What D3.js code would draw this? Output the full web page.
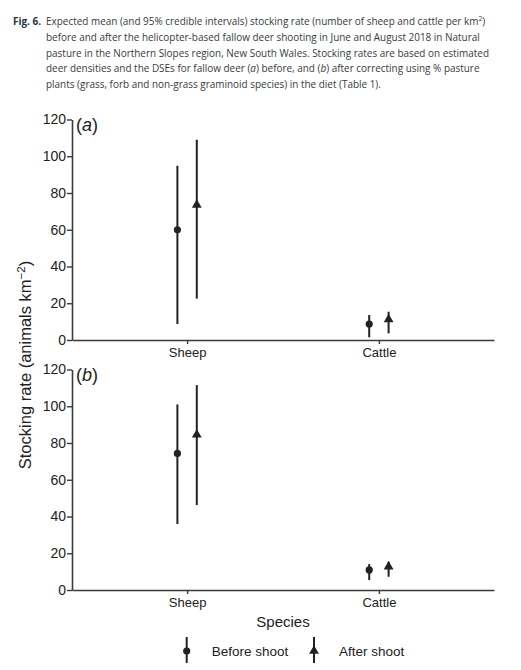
<!DOCTYPE html>
<html><head><meta charset="utf-8">
<script src="https://cdn.jsdelivr.net/npm/d3@7"></script>
<style>
body{margin:0;background:#fff;}
svg{display:block;}
</style></head>
<body>
<svg id="c" width="521" height="670"></svg>
<script>
const species = ["Sheep", "Cattle"];
const groups = ["Before shoot", "After shoot"];
const yTicks = [0, 20, 40, 60, 80, 100, 120];

// panel (a)
const aBeforeMean = [60, 8.7];
const aBeforeLow  = [8.7, 1.5];
const aBeforeHigh = [94.8, 13.6];
const aAfterMean  = [73.5, 11.2];
const aAfterLow   = [22.5, 3.6];
const aAfterHigh  = [109, 15.4];
// panel (b)
const bBeforeMean = [74.3, 10.9];
const bBeforeLow  = [35.9, 5.4];
const bBeforeHigh = [101, 14.1];
const bAfterMean  = [84.5, 12.7];
const bAfterLow   = [46.2, 7.2];
const bAfterHigh  = [111.5, 15.4];

const captionLines = [
  "before and after the helicopter-based fallow deer shooting in June and August 2018 in Natural",
  "pasture in the Northern Slopes region, New South Wales. Stocking rates are based on estimated"
];

const svg = d3.select("#c");
const ink = "#222";
const axisCol = "#3a3a3a";

// caption
const cap = svg.append("g").attr("font-family", "'Open Sans', sans-serif").attr("font-size", 9.95).attr("fill", "#3a3a3a");
const cx0 = 46, cy0 = 25, lh = 15.8;
cap.append("text").attr("x", 13).attr("y", cy0).attr("font-weight", "bold").attr("fill", "#1e3242").text("Fig. 6.");
const l1 = cap.append("text").attr("x", cx0).attr("y", cy0);
l1.append("tspan").text("Expected mean (and 95% credible intervals) stocking rate (number of sheep and cattle per km");
l1.append("tspan").attr("font-size", 6.8).attr("dy", -4).text("2");
l1.append("tspan").attr("dy", 4).text(")");
captionLines.forEach((t, i) => cap.append("text").attr("x", cx0).attr("y", cy0 + lh * (i + 1)).text(t));
const l4 = cap.append("text").attr("x", cx0).attr("y", cy0 + lh * 3);
l4.append("tspan").text("deer densities and the DSEs for fallow deer (");
l4.append("tspan").attr("font-style", "italic").text("a");
l4.append("tspan").text(") before, and (");
l4.append("tspan").attr("font-style", "italic").text("b");
l4.append("tspan").text(") after correcting using % pasture");
cap.append("text").attr("x", cx0).attr("y", cy0 + lh * 4).text("plants (grass, forb and non-grass graminoid species) in the diet (Table 1).");

// scales
const x = d3.scalePoint().domain(species).range([72, 494]).padding(0.6);
const offset = d3.scaleOrdinal().domain(groups).range([-9.7, 9.7]);

const panels = [
  { label: "a", top: 119.5, bottom: 340,
    series: [
      { g: groups[0], mean: aBeforeMean, lo: aBeforeLow, hi: aBeforeHigh },
      { g: groups[1], mean: aAfterMean, lo: aAfterLow, hi: aAfterHigh }] },
  { label: "b", top: 369.5, bottom: 590,
    series: [
      { g: groups[0], mean: bBeforeMean, lo: bBeforeLow, hi: bBeforeHigh },
      { g: groups[1], mean: bAfterMean, lo: bAfterLow, hi: bAfterHigh }] }
];

const tri = d3.symbol().type(d3.symbolTriangle).size(42);

function drawMarker(g, grp, px, py) {
  if (grp === groups[0]) {
    g.append("circle").attr("cx", px).attr("cy", py).attr("r", 3.6).attr("fill", ink);
  } else {
    g.append("path").attr("d", tri()).attr("transform", `translate(${px},${py})`).attr("fill", ink);
  }
}

panels.forEach(p => {
  const y = d3.scaleLinear().domain([0, 120]).range([p.bottom, p.top]);
  const g = svg.append("g");

  const ya = g.append("g").attr("transform", "translate(72,0)")
    .call(d3.axisLeft(y).tickValues(yTicks).tickSize(5).tickPadding(1).tickSizeOuter(0));
  ya.select(".domain").attr("stroke", axisCol).attr("stroke-width", 1.6);
  ya.selectAll(".tick line").attr("stroke", axisCol).attr("stroke-width", 1.4);
  ya.selectAll("text").attr("font-family", "'Liberation Sans', Arial, sans-serif").attr("font-size", 14).attr("fill", ink);

  const xa = g.append("g").attr("transform", `translate(0,${p.bottom})`)
    .call(d3.axisBottom(x).tickSize(4).tickPadding(4).tickSizeOuter(0));
  xa.select(".domain").attr("stroke", axisCol).attr("stroke-width", 1.6);
  xa.selectAll(".tick line").attr("stroke", axisCol).attr("stroke-width", 1.4);
  xa.selectAll("text").attr("font-family", "'Liberation Sans', Arial, sans-serif").attr("font-size", 13).attr("fill", ink);

  const lab = g.append("text").attr("x", 76).attr("y", p.top + 11)
    .attr("font-family", "'Liberation Sans', Arial, sans-serif").attr("font-size", 18).attr("fill", ink);
  lab.append("tspan").text("(");
  lab.append("tspan").attr("font-style", "italic").text(p.label);
  lab.append("tspan").text(")");

  p.series.forEach(s => {
    species.forEach((sp, i) => {
      const px = x(sp) + offset(s.g);
      g.append("line").attr("x1", px).attr("x2", px)
        .attr("y1", y(s.lo[i])).attr("y2", y(s.hi[i]))
        .attr("stroke", ink).attr("stroke-width", 2);
      drawMarker(g, s.g, px, y(s.mean[i]));
    });
  });
});

// y-axis title
const yt = svg.append("text").attr("transform", "translate(31,365) rotate(-90)")
  .attr("text-anchor", "middle").attr("font-family", "'Liberation Sans', Arial, sans-serif")
  .attr("font-size", 16.5).attr("fill", ink);
yt.append("tspan").text("Stocking rate (animals km");
yt.append("tspan").attr("font-size", 11.5).attr("dy", -6).text("\u22122");
yt.append("tspan").attr("dy", 6).text(")");

// x-axis title
svg.append("text").attr("x", 283).attr("y", 627).attr("text-anchor", "middle")
  .attr("font-family", "'Liberation Sans', Arial, sans-serif").attr("font-size", 15).attr("fill", ink)
  .text("Species");

// legend
const legX = d3.scaleOrdinal().domain(groups).range([186.7, 314]);
groups.forEach(gr => {
  const lx = legX(gr);
  const lg = svg.append("g");
  lg.append("line").attr("x1", lx).attr("x2", lx).attr("y1", 637).attr("y2", 663)
    .attr("stroke", ink).attr("stroke-width", 2);
  drawMarker(lg, gr, lx, 651);
  lg.append("text").attr("x", lx + 25).attr("y", 656)
    .attr("font-family", "'Liberation Sans', Arial, sans-serif").attr("font-size", 13.5).attr("fill", ink)
    .text(gr);
});
</script>
</body></html>
